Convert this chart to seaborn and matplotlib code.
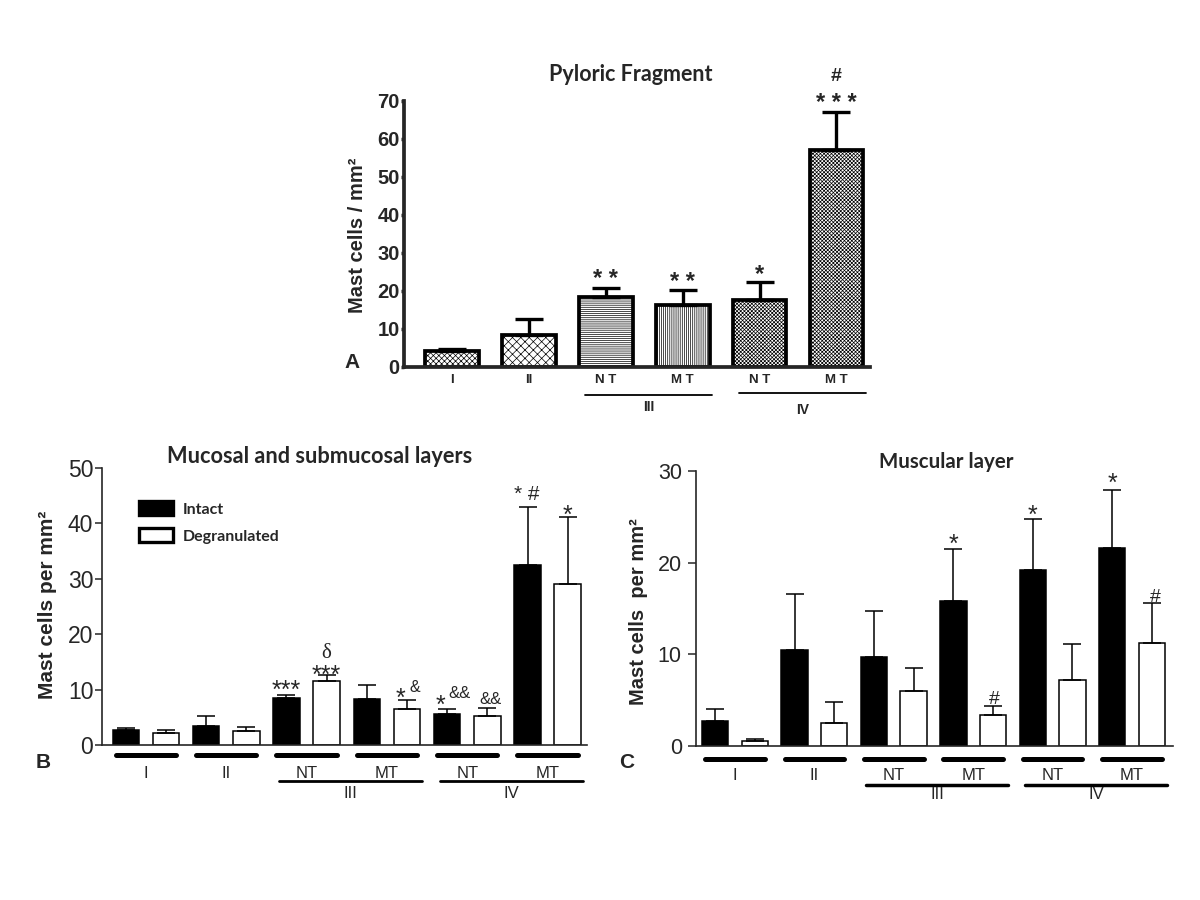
import numpy as np
import pandas as pd
import matplotlib
matplotlib.use("Agg")
import matplotlib.pyplot as plt
import matplotlib.transforms as mtransforms
import seaborn as sns

# ---------------- data ----------------
# Panel A: Pyloric fragment
a_keys = ["I", "II", "III-NT", "III-MT", "IV-NT", "IV-MT"]
a_sub_labels = ["I", "II", "N T", "M T", "N T", "M T"]
a_mean = [4.2, 8.2, 18.2, 16.3, 17.5, 56.9]
a_sem = [0.4, 4.3, 2.6, 3.9, 4.7, 10.2]
a_marks = ["", "", "* *", "* *", "*", "* * *"]
a_marks_hash = ["", "", "", "", "", "#"]

# Panels B and C
groups = ["I", "II", "III-NT", "III-MT", "IV-NT", "IV-MT"]
sub_labels = ["I", "II", "NT", "MT", "NT", "MT"]
cell_types = ["Intact", "Degranulated"]
super_groups = ["III", "IV"]

b_intact = [2.7, 3.5, 8.5, 8.3, 5.6, 32.5]
b_intact_sem = [0.5, 1.8, 0.5, 2.6, 1.0, 10.5]
b_degr = [2.2, 2.6, 11.6, 6.5, 5.2, 29.1]
b_degr_sem = [0.5, 0.7, 1.0, 1.7, 1.5, 12.1]

c_intact = [2.7, 10.45, 9.7, 15.8, 19.2, 21.55]
c_intact_sem = [1.35, 6.15, 5.0, 5.7, 5.55, 6.4]
c_degr = [0.55, 2.5, 6.0, 3.35, 7.15, 11.25]
c_degr_sem = [0.2, 2.3, 2.5, 1.0, 3.95, 4.35]

# annotations: (group index, cell type, text)
b_notes = [(2, "Intact", "***"), (2, "Degranulated", "***"), (2, "Degranulated", "δ"),
           (3, "Degranulated", "*"), (3, "Degranulated", "&"),
           (4, "Intact", "*"), (4, "Intact", "&&"), (4, "Degranulated", "&&"),
           (5, "Intact", "* #"), (5, "Degranulated", "*")]
c_notes = [(3, "Intact", "*"), (3, "Degranulated", "#"), (4, "Intact", "*"),
           (5, "Intact", "*"), (5, "Degranulated", "#")]

# styling of annotations (dx, dy of glyph centre above error top, in pixels)
b_note_pos = [(0, 11.5), (0, 7), (0, 25), (-7, 8.5), (8, 13.5), (-7, 10.5), (12.5, 17), (3.5, 10.5),
              (-1, 17.5), (0, 8.5)]
c_note_pos = [(0, 11), (1, 9), (0, 11), (0, 13), (3.5, 8)]

a_hatches = ["xxxxxx", "xxxx", "--------", "||||||||", "xxxxxxxxx", "xxxxxxxxx"]

# ---------------- style ----------------
sns.set_style("ticks")
plt.rcParams['font.family'] = ['Liberation Sans', 'DejaVu Sans']
plt.rcParams['hatch.linewidth'] = 0.5
TITLE_FONT = ['Lato', 'DejaVu Sans']

fig = plt.figure(figsize=(12, 9), dpi=100)


def glyph_note(ax, x, ytop, text, dx, dyc, size, weight='normal', family=None):
    frac = 0.58 if text.strip("* ") == "" else (0.5 if "*" in text else 0.36)
    dy = dyc - frac * size * 100 / 72
    kw = dict(fontsize=size, fontweight=weight, ha='center', va='baseline',
              textcoords='offset pixels', xytext=(dx, dy), annotation_clip=False)
    if family is not None:
        kw['family'] = family
    ax.annotate(text, xy=(x, ytop), **kw)


# ================= Panel A =================
axA = fig.add_axes([0.3367, 0.5926, 0.3883, 0.2956])
sns.barplot(x=a_keys, y=a_mean, order=a_keys, color='white', edgecolor='black',
            linewidth=2.7, width=0.70, saturation=1, errorbar=None, ax=axA)
barsA = list(axA.containers[0].patches)
for p, h in zip(barsA, a_hatches):
    p.set_hatch(h)
xa = [p.get_x() + p.get_width() / 2 for p in barsA]
axA.errorbar(xa, a_mean, yerr=[np.zeros(len(a_sem)), a_sem], fmt='none', ecolor='black',
             elinewidth=2.4, capsize=10, capthick=2.4, zorder=3)
axA.set_xlim(-0.624, 5.436)
axA.set_ylim(0, 70)
axA.set_yticks(np.arange(0, 71, 10))
for lab in axA.get_yticklabels():
    lab.set_fontweight('bold')
axA.tick_params(axis='y', labelsize=14.5, width=2.5, length=2.5, pad=0.5)
axA.tick_params(axis='x', length=0, labelbottom=False)
sns.despine(ax=axA)
for s in ['left', 'bottom']:
    axA.spines[s].set_linewidth(2.7)
axA.set_ylabel("Mast cells / mm²", fontsize=14.5, fontweight='bold')
axA.yaxis.set_label_coords(-0.079, 0.495)
axA.text(0.486, 1.097, "Pyloric Fragment", transform=axA.transAxes, ha='center', va='center',
         fontsize=15.5, fontweight='bold', family=TITLE_FONT)
trA = mtransforms.blended_transform_factory(axA.transData, axA.transAxes)
for x, lab in zip(xa, a_sub_labels):
    axA.text(x, -0.052, lab, transform=trA, ha='center', va='center', fontsize=9.5, fontweight='bold')
for k, (sg, ly, ty) in enumerate(zip(super_groups, [-0.106, -0.099], [-0.15, -0.163])):
    i0, i1 = 2 + 2 * k, 3 + 2 * k
    x0 = barsA[i0].get_x() + 0.08
    x1 = barsA[i1].get_x() + barsA[i1].get_width() + 0.03
    axA.plot([x0, x1], [ly, ly], transform=trA, clip_on=False, color='black', lw=1.3)
    axA.text((x0 + x1) / 2, ty, sg, transform=trA, ha='center', va='center',
             fontsize=10, fontweight='bold')
for x, m, s, t, hsh in zip(xa, a_mean, a_sem, a_marks, a_marks_hash):
    top = m + s
    if t:
        glyph_note(axA, x, top, t, 0, 15, 17, 'bold')
    if hsh:
        glyph_note(axA, x, top, hsh, 0, 38, 14, 'bold')
fig.text(351.7 / 1200, 1 - 363 / 900, "A", ha='center', va='center', fontsize=15, fontweight='bold')


# ================= Panels B and C =================
def grouped_panel(ax, intact, intact_sem, degr, degr_sem, ymax, xlim, gap, notes, note_pos,
                  ylabel, ylabel_size, ticksize, ticklen, tickpad, title, title_size, title_xy,
                  label_coords, legend, lines_y, thin_lw):
    df = pd.DataFrame({
        'group': groups * 2,
        'cell': [cell_types[0]] * len(groups) + [cell_types[1]] * len(groups),
        'value': list(intact) + list(degr),
    })
    sns.barplot(data=df, x='group', y='value', hue='cell', order=groups, hue_order=cell_types,
                palette={'Intact': 'black', 'Degranulated': 'white'}, edgecolor='black',
                linewidth=1.1, width=1.0, gap=gap, saturation=1, errorbar=None,
                legend=legend, ax=ax)
    bars = {ct: list(c.patches) for ct, c in zip(cell_types, ax.containers)}
    sems = {'Intact': intact_sem, 'Degranulated': degr_sem}
    vals = {'Intact': intact, 'Degranulated': degr}
    for ct in cell_types:
        xs = [p.get_x() + p.get_width() / 2 for p in bars[ct]]
        ax.errorbar(xs, vals[ct], yerr=[np.zeros(len(groups)), sems[ct]], fmt='none',
                    ecolor='black', elinewidth=1.1, capsize=6.5, capthick=1.1, zorder=3)
    ax.set_xlim(*xlim)
    ax.set_ylim(0, ymax)
    ax.set_yticks(np.arange(0, ymax + 1, 10))
    ax.tick_params(axis='y', labelsize=ticksize, width=1.1, length=ticklen, pad=tickpad)
    ax.tick_params(axis='x', length=0, labelbottom=False)
    ax.set_xlabel("")
    sns.despine(ax=ax)
    for s in ['left', 'bottom']:
        ax.spines[s].set_linewidth(1.2)
    ax.set_ylabel(ylabel, fontsize=ylabel_size, fontweight='bold')
    ax.yaxis.set_label_coords(*label_coords)
    ax.text(title_xy[0], title_xy[1], title, transform=ax.transAxes, ha='center', va='center',
            fontsize=title_size, fontweight='bold', family=TITLE_FONT)
    tr = mtransforms.blended_transform_factory(ax.transData, ax.transAxes)
    y_thick, y_lab, y_thin, y_super = lines_y
    for i, lab in enumerate(sub_labels):
        x0 = bars['Intact'][i].get_x() + 0.04
        x1 = bars['Degranulated'][i].get_x() + bars['Degranulated'][i].get_width() - 0.04
        ax.plot([x0, x1], [y_thick, y_thick], transform=tr, clip_on=False, color='black',
                lw=3.6, solid_capstyle='round')
        ax.text((x0 + x1) / 2, y_lab, lab, transform=tr, ha='center', va='center', fontsize=12)
    for k, sg in enumerate(super_groups):
        i0, i1 = 2 + 2 * k, 3 + 2 * k
        x0 = bars['Intact'][i0].get_x() + 0.07
        x1 = bars['Degranulated'][i1].get_x() + bars['Degranulated'][i1].get_width() + 0.02
        ax.plot([x0, x1], [y_thin, y_thin], transform=tr, clip_on=False, color='black',
                lw=thin_lw, solid_capstyle='round')
        ax.text((x0 + x1) / 2, y_super, sg, transform=tr, ha='center', va='center', fontsize=12)
    for (gi, ct, txt), (dx, dyc) in zip(notes, note_pos):
        p = bars[ct][gi]
        x = p.get_x() + p.get_width() / 2
        top = vals[ct][gi] + sems[ct][gi]
        if txt == "δ":
            glyph_note(ax, x, top, txt, dx, dyc, 15, family=['Liberation Serif', 'DejaVu Serif'])
        elif txt == "&":
            glyph_note(ax, x, top, txt, dx, dyc, 11.5)
        elif "&" in txt:
            glyph_note(ax, x, top, txt, dx, dyc, 12)
        elif "#" in txt and "*" in txt:
            glyph_note(ax, x, top, txt, dx, dyc, 15)
        elif txt == "#":
            glyph_note(ax, x, top, txt, dx, dyc, 14)
        else:
            glyph_note(ax, x, top, txt, dx, dyc, 18)
    return bars


axB = fig.add_axes([0.08475, 0.1719, 0.4044, 0.3084])
grouped_panel(axB, b_intact, b_intact_sem, b_degr, b_degr_sem, 50, (-0.55, 5.49), 0.34,
              b_notes, b_note_pos, "Mast cells per mm²", 15, 16.5, 4.8, 1.2,
              "Mucosal and submucosal layers", 15.7,
              (0.45, 1.04), (-0.093, 0.505), True, (-0.035, -0.101, -0.129, -0.172), 2.0)
handles, labels = axB.get_legend_handles_labels()
leg = axB.legend(handles, labels, loc='upper left', bbox_to_anchor=(0.0635, 0.9017), frameon=False,
                 handlelength=2.13, handleheight=0.94, labelspacing=0.72, borderaxespad=0,
                 handletextpad=0.6,
                 prop={'family': TITLE_FONT, 'weight': 'bold', 'size': 11.5})
for h in leg.legend_handles:
    h.set_linewidth(2.4)
    h.set_edgecolor('black')
fig.text(43.3 / 1200, 1 - 762.7 / 900, "B", ha='center', va='center', fontsize=15, fontweight='bold')

axC = fig.add_axes([0.57975, 0.17144, 0.398, 0.3052])
grouped_panel(axC, c_intact, c_intact_sem, c_degr, c_degr_sem, 30, (-0.495, 5.52), 0.335,
              c_notes, c_note_pos, "Mast cells  per mm²", 14.5, 15.5, 6, 4,
              "Muscular layer", 14.8,
              (0.524, 1.034), (-0.1, 0.487), False, (-0.0495, -0.107, -0.143, -0.179), 2.5)
fig.text(627 / 1200, 1 - 763 / 900, "C", ha='center', va='center', fontsize=15, fontweight='bold')

fig.savefig("out.png", dpi=100)
